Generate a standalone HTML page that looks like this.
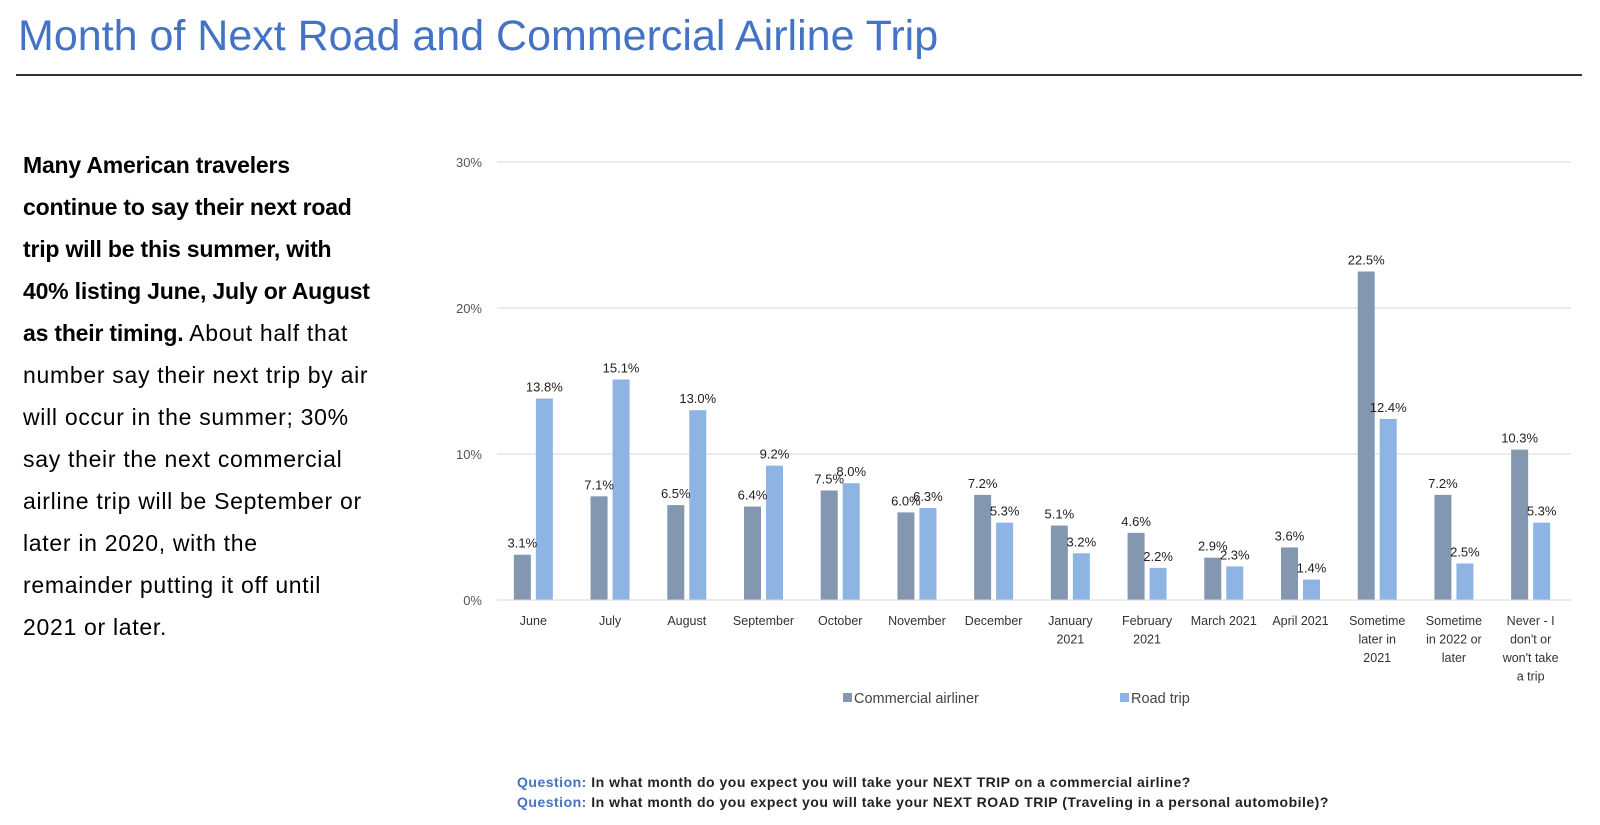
<!DOCTYPE html>
<html><head><meta charset="utf-8"><style>
body{margin:0;width:1600px;height:825px;background:#fff;font-family:"Liberation Sans",sans-serif;position:relative;overflow:hidden}
#title{position:absolute;left:18px;top:12px;font-size:43px;color:#4472c4;white-space:nowrap}
#rule{position:absolute;left:16px;top:74px;width:1566px;height:2px;background:#333}
#body{position:absolute;left:23px;top:144px;font-size:23px;line-height:42px;color:#000;white-space:nowrap;letter-spacing:0.7px}
#body b{letter-spacing:-0.2px}
#q{position:absolute;left:517px;top:772px;font-size:14px;font-weight:bold;line-height:20px;color:#222;white-space:nowrap;letter-spacing:0.5px}
#q span{color:#4472c4}
</style></head><body>
<div id="title">Month of Next Road and Commercial Airline Trip</div>
<div id="rule"></div>
<div id="body"><b>Many American travelers<br>continue to say their next road<br>trip will be this summer, with<br>40% listing June, July or August<br>as their timing.</b> About half that<br>number say their next trip by air<br>will occur in the summer; 30%<br>say their the next commercial<br>airline trip will be September or<br>later in 2020, with the<br>remainder putting it off until<br>2021 or later.</div>
<svg id="chart" width="1600" height="825" style="position:absolute;left:0;top:0" font-family="Liberation Sans, sans-serif"></svg>
<div id="q"><span>Question:</span> In what month do you expect you will take your NEXT TRIP on a commercial airline?<br><span>Question:</span> In what month do you expect you will take your NEXT ROAD TRIP (Traveling in a personal automobile)?</div>
<script>
const categories=[["June"],["July"],["August"],["September"],["October"],["November"],["December"],["January","2021"],["February","2021"],["March 2021"],["April 2021"],["Sometime","later in","2021"],["Sometime","in 2022 or","later"],["Never - I","don't or","won't take","a trip"]];
const airline=[3.1,7.1,6.5,6.4,7.5,6.0,7.2,5.1,4.6,2.9,3.6,22.5,7.2,10.3];
const road=[13.8,15.1,13.0,9.2,8.0,6.3,5.3,3.2,2.2,2.3,1.4,12.4,2.5,5.3];
const ticks=[0,10,20,30];
const tickLabels=["0%","10%","20%","30%"];
const svg=document.getElementById('chart');
const NS='http://www.w3.org/2000/svg';
const X0=497,X1=1571,Y0=600,YT=162;
const y=v=>Y0-(v/30)*(Y0-YT);
const bw=(X1-X0)/categories.length;
const cx=i=>X0+bw*(i+0.5)-2;
function mk(t,a){const e=document.createElementNS(NS,t);for(const k in a)e.setAttribute(k,a[k]);svg.appendChild(e);return e;}
ticks.forEach((t,i)=>{
 const g=mk('line',{x1:X0,x2:X1,y1:y(t),y2:y(t),stroke:'#d9d9d9','stroke-width':1});
 
 
 const l=mk('text',{x:482,y:y(t)+5,'text-anchor':'end','font-size':13,fill:'#555'});
 l.textContent=tickLabels[i];
 
 
});
const BW=17;
categories.forEach((c,i)=>{
 const c1=cx(i);
 const a=mk('rect',{x:c1-BW-2.5,y:y(airline[i]),width:BW,height:Y0-y(airline[i]),fill:'#8497b0'});
 
 
 const r=mk('rect',{x:c1+2.5,y:y(road[i]),width:BW,height:Y0-y(road[i]),fill:'#8db4e2'});
 
 
 const la=mk('text',{x:c1-BW/2-2.5,y:y(airline[i])-7,'text-anchor':'middle','font-size':13,fill:'#222'});
 la.textContent=airline[i].toFixed(1)+'%';
 
 
 const lr=mk('text',{x:c1+BW/2+2.5,y:y(road[i])-7,'text-anchor':'middle','font-size':13,fill:'#222'});
 lr.textContent=road[i].toFixed(1)+'%';
 
 
 c.forEach((s,j)=>{
  const t=mk('text',{x:c1,y:625+j*18.5,'text-anchor':'middle','font-size':12.5,fill:'#333'});
  t.textContent=s;
  
  
 });
});
const base=mk('line',{x1:X0,x2:X1,y1:Y0,y2:Y0,stroke:'#d9d9d9','stroke-width':1});


[[843,'#8497b0','Commercial airliner'],[1120,'#8db4e2','Road trip']].forEach(([x,col,txt])=>{
 const m=mk('rect',{x:x,y:693,width:9,height:9,fill:col});
 
 
 const t=mk('text',{x:x+11,y:703,'font-size':14.5,fill:'#444'});
 t.textContent=txt;
 
 
});
</script>
</body></html>
